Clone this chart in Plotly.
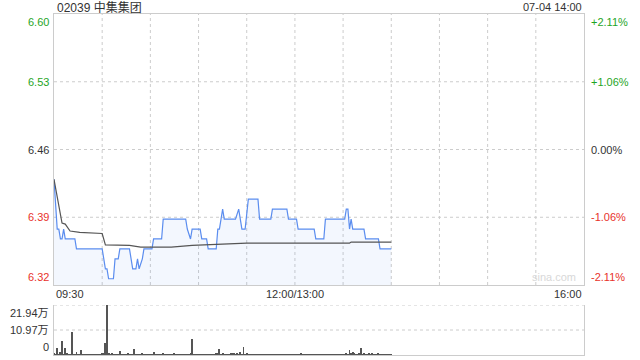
import plotly.graph_objects as go

# ---------------- data ----------------
title_text = "02039 中集集团"
stamp_text = "07-04 14:00"
prev_close = 6.46
pct_span = 0.0211

# price line breakpoints (minute index from 09:30, lunch removed)
price_min = [0, 2, 3, 4, 5, 6, 7, 13, 14, 30,
             32, 33, 34, 37, 38, 40, 41, 47, 49, 51,
             52, 53, 55, 56, 61, 62, 67, 68, 82, 83,
             85, 86, 91, 92, 95, 96, 101, 102, 103, 105,
             106, 113, 115, 116, 117, 119, 121, 127, 128, 135,
             136, 145, 146, 151, 152, 162, 163, 168, 169, 181,
             182, 183, 184, 185, 186, 193, 194, 202, 203, 210]
price_val = [6.43, 6.38, 6.38, 6.37, 6.37, 6.38, 6.37, 6.37, 6.36, 6.36,
             6.34, 6.34, 6.33, 6.33, 6.35, 6.35, 6.36, 6.36, 6.34, 6.34,
             6.35, 6.34, 6.35, 6.36, 6.36, 6.37, 6.37, 6.39, 6.39, 6.38,
             6.37, 6.38, 6.38, 6.37, 6.37, 6.36, 6.36, 6.38, 6.38, 6.40,
             6.39, 6.39, 6.40, 6.39, 6.38, 6.38, 6.41, 6.41, 6.39, 6.39,
             6.40, 6.40, 6.39, 6.39, 6.38, 6.38, 6.37, 6.37, 6.39, 6.39,
             6.40, 6.40, 6.38, 6.39, 6.38, 6.38, 6.37, 6.37, 6.36, 6.36]

# average price line breakpoints
avg_min = [0, 2, 3, 5, 7, 10, 16, 24, 30, 32, 47, 54, 68, 73, 86, 105, 120, 184, 185, 210]
avg_val = [6.43, 6.411, 6.4045, 6.386, 6.385, 6.378, 6.3767, 6.376, 6.3755, 6.364,
           6.3635, 6.3618, 6.3615, 6.3618, 6.3635, 6.3648, 6.3658, 6.3658, 6.3669, 6.3669]

# per-minute volume (万股)
volume = [0.9, 0.4, 3.1, 0.3, 1.3, 6.3, 0.4, 3.1, 0.5, 0.2,
          0.3, 10.2, 0.2, 0.3, 1.3, 0.2, 0.4, 2.3, 0.3, 0.2,
          0.3, 0.4, 0.2, 0.3, 0.2, 0.4, 0.3, 0.2, 0.3, 0.4,
          0.5, 0.8, 5.3, 21.94, 0.6, 0.4, 0.5, 0.3, 0.4, 0.3,
          0.4, 1.8, 0.3, 0.2, 0.4, 0.3, 0.5, 0.3, 0.2, 0.4,
          2.5, 0.3, 0.4, 0.2, 0.3, 0.5, 0.3, 0.2, 0.4, 0.3,
          0.2, 0.3, 1.3, 0.4, 0.2, 0.3, 0.4, 0.3, 0.5, 0.2,
          0.3, 0.2, 0.4, 0.3, 0.2, 0.9, 0.3, 0.2, 0.4, 0.3,
          0.2, 0.3, 0.4, 0.2, 0.3, 0.5, 7.1, 0.4, 0.3, 0.2,
          0.3, 0.4, 0.2, 0.3, 0.2, 0.4, 0.3, 0.2, 0.3, 0.4,
          0.3, 0.5, 0.8, 2.7, 0.4, 0.9, 0.3, 0.2, 0.4, 0.3,
          0.5, 0.6, 0.8, 0.4, 0.6, 0.3, 1.2, 0.4, 3.5, 0.3,
          0.5, 0.3, 0.2, 0.4, 0.3, 0.2, 0.3, 0.4, 0.2, 0.3,
          0.4, 0.3, 0.2, 0.3, 0.4, 0.2, 0.3, 0.2, 0.4, 0.3,
          0.2, 0.3, 0.4, 0.2, 0.3, 0.2, 0.4, 0.3, 0.2, 0.3,
          0.4, 0.3, 0.2, 0.3, 0.6, 0.3, 0.2, 0.4, 0.3, 0.2,
          0.3, 0.2, 0.4, 0.3, 0.2, 0.3, 0.4, 0.2, 0.3, 0.2,
          0.4, 0.3, 0.2, 0.3, 0.4, 0.2, 0.3, 0.2, 0.4, 0.3,
          0.2, 0.3, 0.5, 0.4, 2.3, 0.6, 1.5, 0.6, 0.3, 0.4,
          0.5, 3.1, 0.4, 0.6, 0.3, 0.4, 0.5, 0.3, 0.6, 0.3,
          0.4, 0.3, 0.5, 0.3, 0.4, 0.3, 0.2, 0.4, 0.3, 0.3,
          0.2]
volume_minutes = list(range(len(volume)))

price_tick_labels = ["6.60", "6.53", "6.46", "6.39", "6.32"]
pct_tick_labels = ["+2.11%", "+1.06%", "0.00%", "-1.06%", "-2.11%"]
price_tick_colors = ["#1fa51f", "#1fa51f", "#333333", "#e8322b", "#e8322b"]
vol_tick_vals = [21.94, 10.97, 0]
vol_tick_labels = ["21.94万", "10.97万", "0"]
time_tick_vals = [0, 150, 330]
time_tick_labels = ["09:30", "12:00/13:00", "16:00"]
grid_minutes = [30, 60, 90, 120, 150, 180, 210, 240, 270, 300]

# ---------------- layout geometry ----------------
W, H = 640, 360
L, R = 54, 584
T, B = 14, 285
VT, VB = 305, 355
FONT = "Liberation Sans, Arial, Noto Sans CJK SC, sans-serif"

y_hi = prev_close * (1 + pct_span)
y_lo = prev_close * (1 - pct_span)
price_tick_vals = [y_hi, prev_close * (1 + pct_span / 2), prev_close,
                   prev_close * (1 - pct_span / 2), y_lo]

fig = go.Figure()
fig.add_trace(go.Scatter(
    x=price_min, y=price_val, mode="lines",
    line=dict(color="#5b8def", width=1.2),
    fill="tozeroy", fillcolor="rgba(91,141,239,0.07)",
    xaxis="x", yaxis="y", hoverinfo="skip"))
fig.add_trace(go.Scatter(
    x=avg_min, y=avg_val, mode="lines",
    line=dict(color="#555555", width=1.2),
    xaxis="x", yaxis="y", hoverinfo="skip"))
fig.add_trace(go.Bar(
    x=volume_minutes, y=volume, width=0.6,
    marker=dict(color="#555555", line=dict(width=0)),
    xaxis="x2", yaxis="y2", hoverinfo="skip"))

shapes = []
for m in grid_minutes:
    shapes.append(dict(type="line", xref="x", yref="y domain", x0=m, x1=m, y0=0, y1=1,
                       line=dict(color="#cccccc", width=1, dash="dot"), layer="below"))
for v in price_tick_vals[1:-1]:
    shapes.append(dict(type="line", xref="x domain", yref="y", x0=0, x1=1, y0=v, y1=v,
                       line=dict(color="#cccccc", width=1, dash="dot"), layer="below"))
for v in vol_tick_vals[:-1]:
    shapes.append(dict(type="line", xref="x2 domain", yref="y2", x0=0, x1=1, y0=v, y1=v,
                       line=dict(color="#cccccc", width=1, dash="dot"), layer="below"))

ann = []
n = len(price_tick_vals)
for i, (v, lab, pl, c) in enumerate(zip(price_tick_vals, price_tick_labels, pct_tick_labels, price_tick_colors)):
    ya = "top" if i == 0 else ("bottom" if i == n - 1 else "middle")
    ann.append(dict(xref="paper", yref="y", x=(L - 3) / W, y=v, text=lab, showarrow=False,
                    xanchor="right", yanchor=ya, font=dict(family=FONT, size=11, color=c)))
    ann.append(dict(xref="paper", yref="y", x=(R + 5) / W, y=v, text=pl, showarrow=False,
                    xanchor="left", yanchor=ya, font=dict(family=FONT, size=11, color=c)))
for i, (v, lab) in enumerate(zip(vol_tick_vals, vol_tick_labels)):
    ya = "top" if i == 0 else ("bottom" if i == len(vol_tick_vals) - 1 else "middle")
    ann.append(dict(xref="paper", yref="y2", x=(L - 3) / W, y=v, text=lab, showarrow=False,
                    xanchor="right", yanchor=ya, font=dict(family=FONT, size=11, color="#333333")))
for i, (v, lab) in enumerate(zip(time_tick_vals, time_tick_labels)):
    xa = "left" if i == 0 else ("right" if i == len(time_tick_vals) - 1 else "center")
    ann.append(dict(xref="x", yref="paper", x=v, y=1 - 294 / H, text=lab, showarrow=False,
                    xanchor=xa, yanchor="middle", font=dict(family=FONT, size=11, color="#333333")))
ann.append(dict(xref="paper", yref="paper", x=(L + 1) / W, y=1 - 7 / H, text=title_text,
                showarrow=False, xanchor="left", yanchor="middle",
                font=dict(family=FONT, size=12, color="#333333")))
ann.append(dict(xref="paper", yref="paper", x=R / W, y=1 - 7 / H, text=stamp_text,
                showarrow=False, xanchor="right", yanchor="middle",
                font=dict(family=FONT, size=11, color="#333333")))
ann.append(dict(xref="paper", yref="paper", x=(R - 6) / W, y=1 - 277 / H, text="sina.com",
                showarrow=False, xanchor="right", yanchor="middle",
                font=dict(family=FONT, size=11, color="#d8d8d8")))

axis_common = dict(showgrid=False, zeroline=False, showticklabels=False, ticks="",
                   showline=True, linecolor="#cccccc", linewidth=1)

fig.update_layout(
    width=W, height=H, margin=dict(l=0, r=0, t=0, b=0),
    paper_bgcolor="white", plot_bgcolor="white", showlegend=False,
    xaxis=dict(domain=[L / W, R / W], range=[0, 330], mirror=True, anchor="y", **axis_common),
    yaxis=dict(domain=[1 - B / H, 1 - T / H], range=[y_lo, y_hi], mirror=True, anchor="x", **axis_common),
    xaxis2=dict(domain=[L / W, R / W], range=[0, 330], mirror=False, anchor="y2", **axis_common),
    yaxis2=dict(domain=[1 - VB / H, 1 - VT / H], range=[0, 21.94], mirror=True, anchor="x2", **axis_common),
    shapes=shapes, annotations=ann, bargap=0,
)

fig.write_html("out.html")
